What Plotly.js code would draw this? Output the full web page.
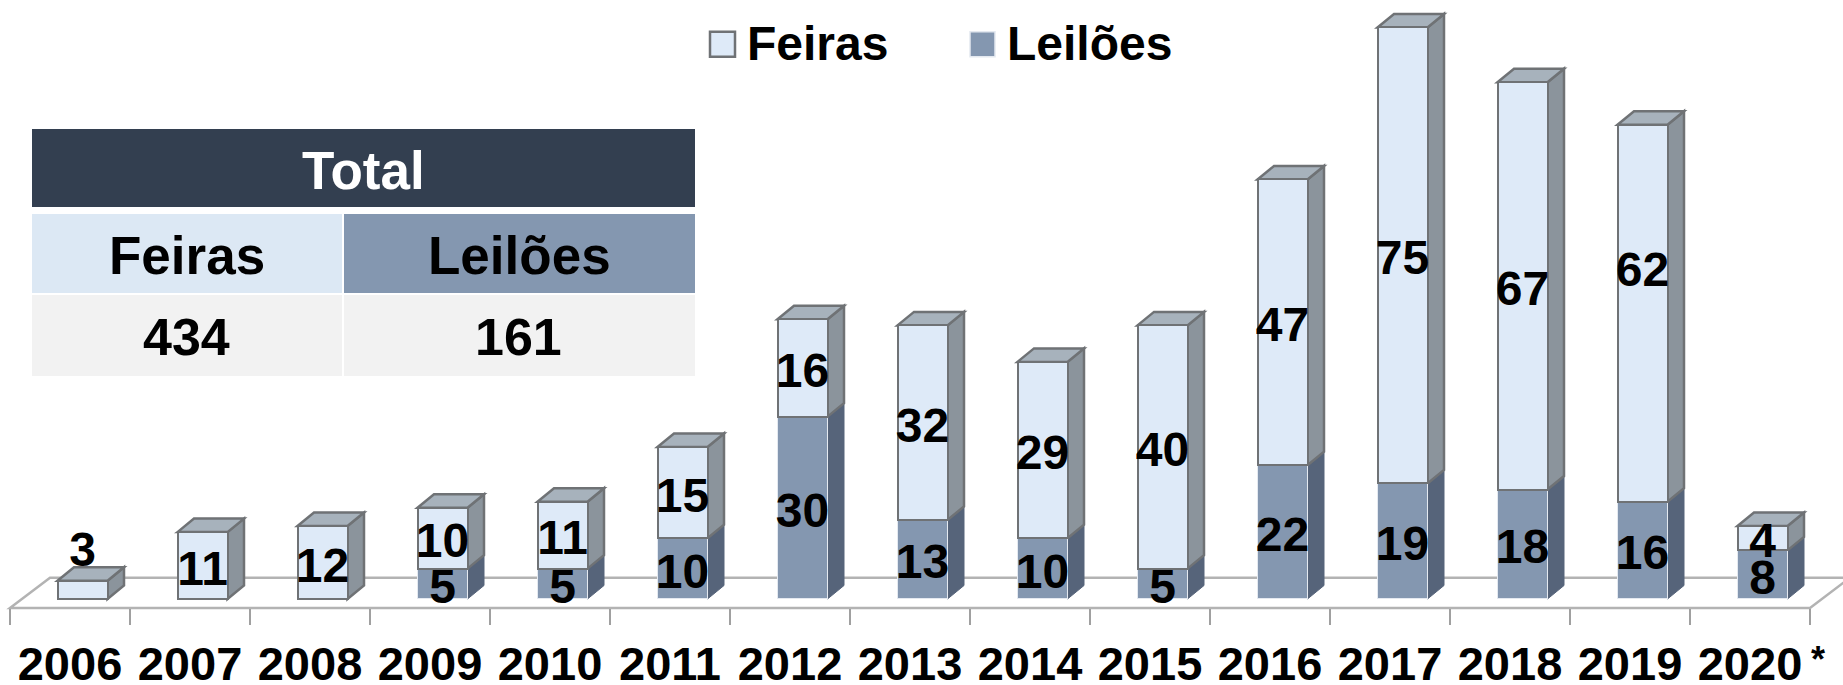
<!DOCTYPE html>
<html>
<head>
<meta charset="utf-8">
<script src="https://cdn.plot.ly/plotly-3.0.1.min.js"></script>
<style>html,body{margin:0;padding:0;background:#fff}#chart{width:1843px;height:685px}</style>
</head>
<body>
<div id="chart"></div>
<script>
const years = ['2006','2007','2008','2009','2010','2011','2012','2013','2014','2015','2016','2017','2018','2019','2020'];
const feiras = [3,11,12,10,11,15,16,32,29,40,47,75,67,62,4];
const leiloes = [0,0,0,5,5,10,30,13,10,5,22,19,18,16,8];
const totalTitle = 'Total';
const totalHeaders = ['Feiras','Leilões'];
const totalValues = ['434','161'];

const W = 1843, H = 685, FONT = '"Liberation Sans", Arial, sans-serif';
const C = {feiras:'#deeaf8', leiloes:'#8497b0', sideF:'#8b949c', topF:'#a7b2bc', sideL:'#56647a',
           edge:'#6f7275', edgeL:'#e4e9f0', floor:'#b3b3b3', head:'#333f50', grey:'#f2f2f2', cellF:'#dce8f4'};
const catPx = 120, unitPx = 6.08, baseY = 599, originX = 70;
const xRange = [-originX/catPx, (W-originX)/catPx];
const yRange = [(baseY-H)/unitPx, baseY/unitPx];
const shift = 12.5/catPx, barW = 50/catPx, dx = 16.5/catPx, dy = 13.5/unitPx;
const labelDrop = 7/unitPx;
const px = v => v/W, py = v => 1-v/H;
const idx = years.map((_,i)=>i);
const barX = idx.map(i=>i+shift);

function poly(pts, fill, line, lw){
  return {type:'path', layer:'below', xref:'x', yref:'y',
    path:'M'+pts.map(p=>p[0]+','+p[1]).join('L')+'Z', fillcolor:fill,
    line:{color:line||fill, width:lw===undefined?1:lw}};
}
const shapes = [];
// floor
const xL = -0.5, xR = 14.5, yF = -9/unitPx, yB = 21.3/unitPx;
shapes.push(poly([[xL,yF],[xL+40/catPx,yB],[xR+40/catPx,yB],[xR,yF]],'rgba(255,255,255,0)',C.floor,2.5));
// side and top faces
idx.forEach(i=>{
  const r = barX[i]+barW/2, l = barX[i]-barW/2, m = leiloes[i], t = m+feiras[i];
  if(m>0) shapes.push(poly([[r,0],[r+dx,dy],[r+dx,m+dy],[r,m]],C.sideL,C.sideL,1));
  shapes.push(poly([[r,m],[r+dx,m+dy],[r+dx,t+dy],[r,t]],C.sideF,C.edge,2.5));
  shapes.push(poly([[l,t],[l+dx,t+dy],[r+dx,t+dy],[r,t]],C.topF,C.edge,2.5));
});
// table cells
function rect(x0,y0,x1,y1,fill){
  return {type:'rect',layer:'above',xref:'paper',yref:'paper',x0:px(x0),x1:px(x1),y0:py(y1),y1:py(y0),fillcolor:fill,line:{width:0}};
}
shapes.push(rect(32,129,695,207,C.head),rect(32,214,342,293,C.cellF),rect(344,214,695,293,C.leiloes),
            rect(32,295,342,376,C.grey),rect(344,295,695,376,C.grey));

function note(text,x,y,color,size,weight){
  return {text,xref:'paper',yref:'paper',x:px(x),y:py(y),xanchor:'center',yanchor:'middle',showarrow:false,
          font:{family:FONT,size:size||53,color:color||'#000',weight:weight===undefined?700:weight}};
}
const annotations = [
  note(totalTitle,363,170,'#fff'),
  note(totalHeaders[0],187,255),note(totalHeaders[1],519,255),
  note(totalValues[0],186,337,'#000',52),note(totalValues[1],518,337,'#000',52),
  note('*',1818,659,'#000',36,700)
];

// one label in the reference sits well above the middle of its segment
const labelLift = {'2019':7.6};
const leiloesIdx = idx.filter(i=>leiloes[i]>0);

const traces = [
  {type:'bar',name:'Leilões',x:barX,y:leiloes,width:barW,legendrank:2,hoverinfo:'x+y',
   marker:{color:C.leiloes,line:{color:C.edgeL,width:1.5}}},
  {type:'bar',name:'Feiras',x:barX,y:feiras,width:barW,legendrank:1,hoverinfo:'x+y',
   marker:{color:C.feiras,line:{color:C.edge,width:2.5}}},
  {type:'scatter',mode:'text',showlegend:false,hoverinfo:'skip',
   x:leiloesIdx.map(i=>barX[i]),
   y:leiloesIdx.map(i=>leiloes[i]/2-labelDrop),
   text:leiloesIdx.map(i=>String(leiloes[i])),textposition:'middle center',cliponaxis:false,
   textfont:{family:FONT,size:48,color:'#000',weight:700}},
  {type:'scatter',mode:'text',showlegend:false,hoverinfo:'skip',
   x:barX,
   y:feiras.map((v,i)=>(v<=3?v+5.5:leiloes[i]+v/2)-labelDrop+(labelLift[years[i]]||0)),
   text:feiras.map(String),textposition:'middle center',cliponaxis:false,
   textfont:{family:FONT,size:48,color:'#000',weight:700}}
];

const layout = {
  width:W,height:H,autosize:false,margin:{l:0,r:0,t:0,b:0},paper_bgcolor:'#fff',plot_bgcolor:'rgba(0,0,0,0)',
  barmode:'stack',bargap:0,font:{family:FONT,color:'#000'},
  xaxis:{type:'linear',range:xRange,anchor:'free',position:1-608/H,showgrid:false,zeroline:false,showline:false,
    tickmode:'array',tickvals:idx,ticktext:years,ticks:'',ticklabelstandoff:24,
    tickfont:{family:FONT,size:47,color:'#000',weight:700},
    minor:{tickmode:'array',tickvals:[...idx.map(i=>i-0.5),14.5],ticks:'outside',ticklen:16,tickwidth:1.5,tickcolor:'#a0a0a0',showgrid:false}},
  yaxis:{type:'linear',range:yRange,visible:false,fixedrange:true},
  shapes,annotations,
  showlegend:true,
  legend:{orientation:'h',traceorder:'normal',x:px(707),xanchor:'left',y:py(4),yanchor:'top',bgcolor:'rgba(0,0,0,0)',
    font:{family:FONT,size:48,color:'#000',weight:700},entrywidth:215,entrywidthmode:'pixels'}
};
function bigSwatches(){
  document.querySelectorAll('#chart .legendpoints path').forEach(p=>p.setAttribute('d','M8,15H-17V-10H8Z'));
}
Plotly.newPlot('chart',traces,layout,{displayModeBar:false}).then(gd=>{
  gd.on('plotly_afterplot',bigSwatches);
  bigSwatches();
  requestAnimationFrame(bigSwatches);
  setTimeout(bigSwatches,50);
});
</script>
</body>
</html>
